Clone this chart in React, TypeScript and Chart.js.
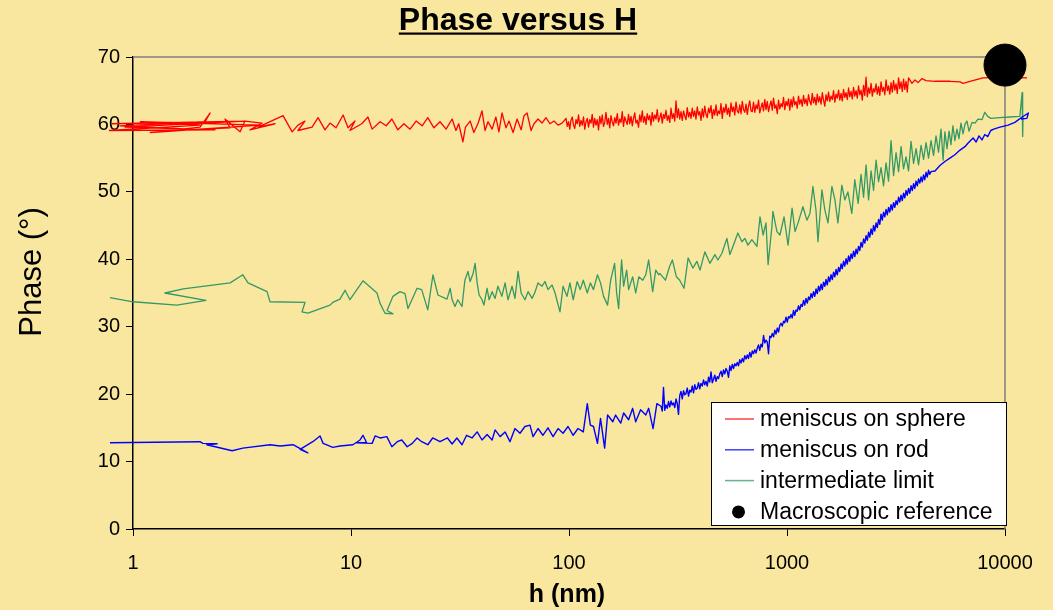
import React, { useEffect, useRef } from "react";
import { Chart, registerables } from "chart.js";
Chart.register(...registerables);

const BG = "#FAE79F";
const FONT = "'Liberation Sans', Arial, sans-serif";
const chartTitle = "Phase versus H";
const xTitle = "h (nm)";
const yTitle = "Phase (°)";
const xTicks = [1, 10, 100, 1000, 10000];
const yTicks = [0, 10, 20, 30, 40, 50, 60, 70];
const seriesLabels = ["meniscus on sphere", "meniscus on rod", "intermediate limit", "Macroscopic reference"];
const seriesColors = ["#FF0000", "#0000FF", "#339966", "#000000"];

// h values (nm) at which the dense parts of the traces were read
const hGrid: number[] = [
  96.9, 98.2, 99.5, 100.8, 102.1, 103.5, 104.9, 106.3, 107.7, 109.1,
  110.6, 112.0, 113.5, 115.0, 116.6, 118.1, 119.7, 121.3, 122.9, 124.5,
  126.2, 127.8, 129.5, 131.2, 133.0, 134.8, 136.6, 138.4, 140.2, 142.1,
  144.0, 145.9, 147.8, 149.8, 151.8, 153.8, 155.8, 157.9, 160.0, 162.1,
  164.3, 166.5, 168.7, 170.9, 173.2, 175.5, 177.8, 180.2, 182.6, 185.0,
  187.5, 190.0, 192.5, 195.1, 197.6, 200.3, 202.9, 205.6, 208.4, 211.1,
  213.9, 216.8, 219.7, 222.6, 225.5, 228.5, 231.6, 234.7, 237.8, 240.9,
  244.1, 247.4, 250.7, 254.0, 257.4, 260.8, 264.3, 267.8, 271.3, 274.9,
  278.6, 282.3, 286.1, 289.9, 293.7, 297.6, 301.6, 305.6, 309.7, 313.8,
  317.9, 322.1, 326.4, 330.8, 335.2, 339.6, 344.1, 348.7, 353.4, 358.1,
  362.8, 367.6, 372.5, 377.5, 382.5, 387.6, 392.7, 397.9, 403.2, 408.6,
  414.0, 419.5, 425.1, 430.8, 436.5, 442.3, 448.2, 454.2, 460.2, 466.3,
  472.5, 478.8, 485.1, 491.6, 498.1, 504.7, 511.4, 518.2, 525.1, 532.1,
  539.2, 546.4, 553.6, 561.0, 568.4, 576.0, 583.6, 591.4, 599.2, 607.2,
  615.3, 623.5, 631.8, 640.2, 648.7, 657.3, 666.0, 674.9, 683.9, 693.0,
  702.2, 711.5, 720.9, 730.5, 740.2, 750.0, 760.0, 770.1, 780.4, 790.8,
  801.3, 811.9, 822.7, 833.6, 844.8, 856.0, 867.4, 878.9, 890.6, 902.4,
  914.4, 926.6, 938.9, 951.4, 964.0, 976.8, 989.8, 1003, 1016, 1030,
  1043, 1057, 1071, 1085, 1100, 1114, 1129, 1144, 1160, 1175,
  1191, 1206, 1222, 1239, 1255, 1272, 1289, 1306, 1323, 1341,
  1359, 1377, 1395, 1414, 1433, 1452, 1471, 1491, 1510, 1530,
  1551, 1571, 1592, 1614, 1635, 1657, 1679, 1701, 1724, 1747,
  1770, 1793, 1817, 1841, 1866, 1891, 1916, 1941, 1967, 1993,
  2020, 2047, 2074, 2101, 2129, 2158, 2186, 2215, 2245, 2275,
  2305, 2336, 2367, 2398, 2430, 2462, 2495, 2528, 2562, 2596,
  2630, 2665, 2700, 2736, 2773, 2810, 2847, 2885, 2923, 2962,
  3001, 3041, 3082, 3123, 3164, 3206, 3249, 3292, 3336, 3380,
  3425, 3470, 3516, 3563, 3610, 3658, 3707, 3756, 3806, 3857,
  3908, 3960, 4012, 4066, 4120, 4174, 4230, 4286, 4343, 4400,
  4459, 4518, 4578,
];

// meniscus on sphere: [h, phase] for the sparse parts
const sphereLow: [number, number][] = [
  [0.80,60.1],[3.26,60.5],[0.92,59.6],[2.38,59.2],[0.78,59.1],[2.03,59.9],[1.08,60.4],[3.83,59.9],[1.20,58.8],[1.83,59.3],
  [0.87,59.8],[2.14,60.4],[2.26,61.7],[2.03,59.6],[1.48,59.1],[2.79,59.5],[2.64,60.8],[3.10,58.9],[3.26,60.5],[3.91,60.2],
  [3.44,59.2],[4.48,60.1],[3.75,59.6],[4.88,61.3],[5.37,58.9],[5.71,59.9],[6.15,60.5],[5.71,59.1],[6.63,59.6],[7.06,61.0],
  [7.60,59.2],[8.01,60.2],[8.54,59.5],[9.2,61.4],[9.69,59.5],[10.43,60.5],[9.89,59.1],[11.2,60.1],[11.96,61.1],[12.5,59.3],
  [13.6,60.4],[14.5,59.8],[15.4,60.8],[16.4,59.2],[17.5,60.1],[18.65,59.3],[19.9,60.5],[21.2,59.8],[22.5,61.0],[24.0,59.5],
  [25.6,60.4],[27.3,59.3],
  [29.1,60.8],[30.3,59.1],[31.2,60.1],[32.6,57.4],[33.5,59.6],[35.2,60.5],[36.6,58.8],[38.2,60.1],[39.9,62.0],[41.2,59.1],
  [42.5,60.4],[44.4,59.3],[46.2,61.1],[47.7,58.9],[49.3,61.7],[51.4,59.5],[53.1,60.5],[55.4,58.8],[57.8,60.8],[60.3,59.2],
  [62.2,61.3],[64.2,61.7],[67.0,59.1],[69.1,60.1],[72.1,60.8],[75.2,60.2],[78.4,61.0],[81.8,60.1],[85.4,60.5],[89.1,59.9],
  [92.9,60.2],
];
// phase at hGrid[0..274]
const sphereDense: number[] = [
  60.9, 59.7, 60.4, 59.3, 60.6, 61.1, 59.9, 59.4, 60.7, 60.1,
  61.4, 59.7, 60.6, 59.9, 61.1, 59.3, 60.4, 60.9, 59.6, 60.7,
  60.2, 61.5, 59.6, 60.9, 59.9, 60.7, 59.2, 61.2, 60.1, 61.4,
  59.7, 60.3, 61.8, 60.0, 60.9, 59.5, 61.3, 60.4, 59.8, 61.0,
  60.2, 61.6, 59.9, 60.8, 60.3, 61.9, 59.7, 61.1, 60.5, 60.0,
  61.5, 60.1, 61.2, 59.8, 60.9, 61.7, 60.2, 60.6, 59.6, 61.4,
  60.4, 62.0, 60.3, 61.2, 60.0, 61.6, 60.7, 61.3, 59.9, 61.8,
  60.5, 61.4, 60.8, 62.2, 60.4, 61.0, 61.7, 60.2, 61.5, 60.9,
  62.1, 60.6, 61.3, 60.3, 62.4, 60.9, 61.6, 60.5, 63.5, 61.0,
  62.3, 60.8, 61.9, 60.6, 62.0, 61.3, 60.7, 62.5, 61.1, 61.8,
  60.9, 62.4, 61.2, 62.0, 60.8, 62.6, 61.4, 61.9, 60.6, 62.3,
  61.1, 62.7, 61.5, 61.0, 62.4, 61.7, 62.8, 60.9, 62.2, 61.4,
  62.9, 61.3, 62.0, 61.6, 63.1, 60.9, 62.5, 61.8, 63.0, 61.5,
  62.4, 61.2, 63.2, 61.9, 62.6, 61.4, 63.3, 62.0, 61.7, 62.9,
  61.6, 63.4, 62.2, 61.8, 63.0, 61.5, 62.7, 63.5, 62.0, 61.9,
  63.3, 61.8, 62.9, 62.3, 63.6, 61.7, 62.5, 63.2, 62.0, 63.7,
  62.2, 63.4, 61.9, 62.8, 63.5, 62.1, 63.9, 62.4, 62.9, 61.6,
  63.6, 62.3, 63.1, 62.6, 64.0, 62.2, 63.4, 62.8, 63.8, 62.1,
  63.7, 62.6, 64.1, 62.9, 63.4, 62.4, 64.2, 63.0, 63.7, 62.7,
  64.3, 63.1, 63.8, 62.8, 64.4, 63.4, 62.9, 64.6, 63.2, 64.0,
  62.9, 64.5, 63.3, 64.1, 63.0, 64.7, 63.6, 62.7, 64.4, 63.5,
  64.8, 63.4, 64.2, 63.7, 65.0, 63.3, 64.5, 63.9, 65.1, 63.6,
  64.6, 63.5, 65.2, 64.0, 64.7, 63.7, 65.4, 64.1, 64.9, 63.8,
  65.5, 64.2, 65.0, 63.9, 65.7, 64.4, 65.1, 63.6, 65.8, 64.3,
  67.0, 64.1, 65.4, 64.6, 66.1, 64.2, 65.3, 64.8, 66.0, 64.5,
  65.6, 64.3, 66.3, 64.9, 65.5, 64.4, 66.6, 65.0, 65.7, 64.5,
  66.2, 64.8, 66.5, 65.1, 66.0, 64.6, 66.9, 65.3, 66.3, 64.9,
  66.7, 65.2, 66.4, 64.8, 66.9,
];
const sphereHigh: [number, number][] = [
  [3744,66.1],[3866,66.6],[3990,66.2],[4163,66.8],[4341,66.5],[4775,66.4],[5594,66.4],[6217,66.3],[6418,66.1],[6909,66.4],
  [7929,66.9],[9484,67.0],[12620,66.9],
];

// meniscus on rod
const rodLow: [number, number][] = [
  [0.784,12.8],[2.03,12.95],[2.09,12.7],[2.43,12.65],[2.18,12.5],[2.85,11.6],[3.19,12.0],[4.25,12.5],[4.73,12.3],[5.42,12.5],
  [6.02,11.7],[6.34,11.3],[5.84,11.8],[6.68,12.95],[7.21,13.8],[7.45,12.7],[8.25,12.1],[8.9,12.3],[10.2,12.5],[11.0,13.2],
  [11.35,13.9],[11.8,12.8],[10.6,12.8],[12.5,12.7],[12.9,13.8],[13.6,13.5],[14.6,13.7],[15.4,12.2],[16.3,12.95],[17.1,13.2],
  [18.1,12.2],[19.1,12.7],[20.1,13.5],[21.1,12.95],[22.5,12.5],[23.7,13.5],[25.6,12.95],[27.7,13.5],
  [29.1,12.6],[30.6,13.5],[32.3,12.5],[33.9,13.9],[35.9,13.5],[37.9,14.4],[39.9,13.2],[42.1,14.0],[44.4,13.2],[45.8,14.7],
  [48.3,13.7],[50.9,14.4],[53.6,12.95],[56.5,14.9],[59.6,14.2],[62.8,15.2],[66.2,15.4],[68.4,13.7],[72.1,14.9],[75.9,13.9],
  [80.1,15.0],[84.5,13.7],[89.1,14.9],[93.9,14.2],[99,15.2],[104.5,13.9],[110,14.9],[116.3,14.4],[121.3,18.6],[125.3,15.4],
  [129.5,15.2],[135.1,12.7],[139.5,16.4],[145.7,12.0],[150.3,16.9],[158.8,15.9],[163.6,16.9],[172.7,15.7],[178.1,17.2],[187.7,16.2],
  [195.9,17.9],[202.3,15.9],[213,17.7],[225,16.9],[232,17.9],[243,14.9],[253,18.6],
];
// phase at hGrid[76..292]
const rodDense: number[] = [
  18.2, 17.5, 21.0, 17.6, 18.4, 17.9, 18.9, 18.1, 19.0, 18.4, 18.7, 18.0, 19.3, 18.6, 17.0, 19.8,
  20.4, 19.3, 20.5, 19.9, 20.1, 20.9, 19.7, 20.6, 20.3, 21.2, 20.2, 21.4, 20.7, 20.9, 21.7, 20.8,
  21.6, 21.2, 22.1, 21.4, 21.9, 21.2, 22.5, 21.8, 23.3, 21.7, 22.2, 22.8, 21.9, 22.6, 22.3, 23.0,
  23.4, 22.6, 23.6, 23.0, 23.8, 23.4, 22.5, 24.2, 23.5, 24.4, 23.8, 24.5, 24.2, 24.7, 24.2, 25.1,
  24.6, 25.3, 24.8, 25.7, 25.2, 25.8, 25.3, 26.2, 25.5, 26.4, 26.0, 26.6, 26.1, 26.8, 27.3, 26.5,
  27.4, 27.0, 28.7, 27.6, 28.0, 27.7, 26.0, 28.6, 28.4, 29.0, 28.5, 29.5, 28.9, 29.8, 29.2, 30.2,
  30.5, 30.1, 30.8, 30.6, 31.4, 30.7, 31.5, 31.3, 31.8, 31.3, 32.4, 31.7, 32.5, 32.3, 33.1, 32.5,
  33.3, 33.0, 33.9, 33.2, 34.2, 33.5, 34.4, 34.0, 34.9, 34.3, 35.2, 34.5, 35.6, 34.9, 36.0, 35.3,
  36.3, 35.5, 36.6, 36.0, 37.0, 36.2, 37.4, 36.7, 37.7, 37.0, 38.1, 37.4, 38.5, 37.7, 38.8, 38.2,
  39.3, 38.6, 39.7, 39.0, 40.1, 39.3, 40.5, 39.7, 40.8, 40.1, 41.2, 40.4, 41.5, 40.8, 41.9, 41.3,
  42.5, 41.8, 43.0, 42.4, 43.5, 42.8, 44.0, 43.3, 44.5, 43.7, 45.0, 44.2, 45.4, 44.7, 45.9, 45.2,
  46.7, 45.8, 47.0, 46.3, 47.4, 46.6, 47.7, 47.0, 48.1, 47.3, 48.4, 47.7, 48.7, 48.1, 49.2, 48.5,
  49.5, 48.7, 49.8, 49.1, 50.2, 49.5, 50.5, 49.8, 50.9, 50.2, 51.2, 50.5, 51.6, 50.9, 51.9, 51.3,
  52.2, 51.5, 52.5, 51.8, 52.9, 52.2, 53.2, 52.6, 53.0,
];
const rodHigh: [number, number][] = [
  [4775,53.1],[5030,53.9],[5300,54.5],[5590,55.0],[5890,55.5],[6220,56.2],[6550,56.7],[6760,57.2],[6990,57.7],[7140,58.0],
  [7370,57.4],[7600,58.3],[7840,57.7],[8080,58.5],[8330,58.2],[8600,59.1],[8880,59.3],[9480,59.6],[10340,59.9],[11100,60.3],
  [12000,61.1],[12800,61.7],[12600,60.9],[11840,60.8],
];

// intermediate limit
const intermediate: [number, number][] = [
  [0.784,34.3],[1.0,33.7],[1.59,33.2],[2.16,33.9],[1.40,35.0],[1.70,35.6],[2.79,36.5],[3.19,37.7],[3.37,36.5],[4.12,35.2],
  [4.25,33.7],[6.15,33.6],[5.96,32.2],[6.35,32.0],[8.01,33.2],[8.25,33.6],[8.9,34.1],[9.39,35.4],[9.89,34.0],[11.35,36.8],
  [13.16,35.0],[13.58,33.5],[14.32,32.0],[15.58,31.9],[14.63,32.4],[15.58,34.5],[16.78,35.2],[17.69,34.9],[18.26,32.7],[20.09,35.7],
  [21.1,35.5],[22.5,32.5],[23.77,37.7],[25.06,34.7],[27.56,34.1],
  [28.5,35.7],[29.1,34.0],[30.0,33.0],[30.9,34.0],[32.3,33.0],[33.3,36.9],[34.4,38.2],[35.2,36.7],[36.3,37.9],[37.1,39.4],
  [37.9,36.5],[38.7,34.7],[39.9,34.0],[40.7,33.2],[42.1,35.7],[43.0,34.0],[44.4,35.2],[45.8,34.2],[47.2,36.0],[49.2,34.5],
  [50.9,36.5],[52.5,34.0],[54.8,36.0],[56.5,34.2],[58.4,38.2],[60.3,35.0],[62.8,34.0],[64.9,35.2],[67.7,34.2],[69.8,35.1],
  [72.1,36.5],[75.2,36.0],[77.6,36.7],[80.1,35.5],[83.6,36.2],[86.3,35.0],[90.9,32.2],[93.9,36.0],[97.9,34.5],[101,36.5],
  [104.5,34.0],[109,36.7],[112.6,35.5],[116.3,36.9],[121.3,35.0],[125.3,36.5],[129.5,35.5],[135.1,37.7],[139.5,36.5],[144.1,34.5],
  [150.3,33.2],[155.3,36.9],[161.9,39.4],[165.4,35.0],[168.9,32.7],[174.3,39.9],[178.1,36.0],[183.8,38.4],[187.7,35.5],[195.9,37.4],
  [202.3,35.0],[209,37.4],[218,36.9],[225,37.7],[232,39.9],[242,35.2],[250,38.4],[258,37.7],
  [261,37.9],[277,36.9],[289,38.9],[298,39.9],[311,37.4],[322,36.9],[337,35.7],[352,40.2],[370,38.7],[386,39.7],
  [399,38.4],[420,41.1],[443,39.4],[467,40.7],[482,39.9],[503,40.9],[530,43.1],[547,40.7],[565,41.9],[595,43.9],
  [621,42.6],[641,43.1],[662,42.1],[690,42.9],[728,41.9],[752,46.3],[777,43.6],[801,45.4],[819,39.2],[853,44.9],
  [862,47.1],[899,44.1],[928,43.6],[969,46.3],[1011,42.1],[1055,47.6],[1089,44.1],[1124,45.4],[1183,47.8],[1234,45.8],
  [1274,46.8],[1315,50.8],[1358,47.3],[1387,42.6],[1446,50.3],[1492,47.3],[1541,45.4],[1607,50.8],[1659,48.8],[1712,45.4],
  [1785,51.0],[1842,48.8],[1902,50.0],[1983,46.8],[2047,51.8],
  [2120,48.3],[2186,52.6],[2245,49.2],[2305,54.0],[2367,48.8],[2430,53.1],[2495,50.2],[2562,54.7],[2630,51.5],[2700,53.6],
  [2773,50.9],[2847,54.3],[2923,51.6],[3001,57.6],[3082,52.4],[3164,55.8],[3249,53.0],[3336,56.7],[3425,53.4],[3516,55.2],
  [3610,53.1],[3707,57.5],[3806,54.2],[3908,56.4],[4012,54.0],[4120,56.9],[4230,54.8],[4343,57.3],[4459,55.0],[4578,57.6],
  [4701,55.4],[4826,58.3],[4955,55.9],[5088,59.3],[5200,54.7],[5300,58.9],[5420,56.4],[5540,59.0],[5650,57.0],[5770,59.8],
  [5890,57.6],[6020,59.3],[6150,57.9],[6280,60.2],[6420,58.6],[6550,60.0],[6690,60.5],[6840,59.0],[7060,60.3],[7280,60.2],
  [7520,60.8],[7840,60.7],[8080,61.8],[8330,61.2],[8600,60.9],[9480,61.0],[10500,61.1],[11700,61.2],[11980,64.7],[12050,58.2],
  [12100,61.1],
];

const macroscopic: [number, number][] = [[10000, 68.8]];

const toXY = (arr: [number, number][]) => arr.map(([x, y]) => ({ x, y }));
const onGrid = (vals: number[], start: number) => vals.map((y, i) => ({ x: hGrid[start + i], y }));

const decor = {
  id: "decor",
  beforeDatasetsDraw(chart: any) {
    const { ctx, chartArea: a } = chart;
    ctx.save();
    ctx.strokeStyle = "#808080";
    ctx.lineWidth = 1.5;
    ctx.beginPath();
    ctx.moveTo(a.left, a.top);
    ctx.lineTo(a.right, a.top);
    ctx.lineTo(a.right, a.bottom);
    ctx.stroke();
    ctx.restore();
  },
  afterDraw(chart: any) {
    const { ctx } = chart;
    ctx.save();
    ctx.fillStyle = "#000";
    ctx.font = `bold 32px ${FONT}`;
    ctx.textAlign = "center";
    ctx.textBaseline = "alphabetic";
    const tx = 518;
    ctx.fillText(chartTitle, tx, 30);
    const tw = ctx.measureText(chartTitle).width;
    ctx.fillRect(tx - tw / 2, 32.5, tw, 2.2);
    ctx.font = `bold 25px ${FONT}`;
    ctx.textBaseline = "middle";
    ctx.fillText(xTitle, 567, 595);
    ctx.save();
    ctx.translate(32, 272);
    ctx.rotate(-Math.PI / 2);
    ctx.font = `31px ${FONT}`;
    ctx.fillText(yTitle, 0, 0);
    ctx.restore();
    const lx = 711, ly = 402, lw = 295, lh = 123;
    ctx.fillStyle = "#FFFFFF";
    ctx.fillRect(lx, ly, lw, lh);
    ctx.strokeStyle = "#000";
    ctx.lineWidth = 1;
    ctx.strokeRect(lx + 0.5, ly + 0.5, lw, lh);
    ctx.font = `23px ${FONT}`;
    ctx.textAlign = "left";
    ctx.textBaseline = "middle";
    seriesLabels.forEach((lab, i) => {
      const cy = 419 + i * 30.8;
      if (i < 3) {
        ctx.strokeStyle = seriesColors[i];
        ctx.globalAlpha = 0.75;
        ctx.lineWidth = 1.5;
        ctx.beginPath();
        ctx.moveTo(725, cy);
        ctx.lineTo(754, cy);
        ctx.stroke();
        ctx.globalAlpha = 1;
      } else {
        ctx.fillStyle = seriesColors[i];
        ctx.beginPath();
        ctx.arc(738.5, cy + 0.5, 6.5, 0, Math.PI * 2);
        ctx.fill();
      }
      ctx.fillStyle = "#000";
      ctx.fillText(lab, 760, cy + 1);
    });
    ctx.restore();
  },
};

export default function App() {
  const ref = useRef<HTMLCanvasElement | null>(null);
  useEffect(() => {
    document.body.style.margin = "0";
    document.body.style.background = BG;
    if (!ref.current) return;
    const lineDs = (i: number, data: { x: number; y: number }[], w: number) => ({
      label: seriesLabels[i],
      data,
      showLine: true,
      borderColor: seriesColors[i],
      backgroundColor: seriesColors[i],
      borderWidth: w,
      pointRadius: 0,
      pointHoverRadius: 0,
      tension: 0,
      clip: false as any,
      order: 1,
      borderJoinStyle: "round" as const,
    });
    const sphereData = [...toXY(sphereLow), ...onGrid(sphereDense, 0), ...toXY(sphereHigh)];
    const rodData = [...toXY(rodLow), ...onGrid(rodDense, 76), ...toXY(rodHigh)];
    const chart = new Chart(ref.current, {
      type: "scatter",
      data: {
        datasets: [
          lineDs(0, sphereData, 1.3),
          lineDs(1, rodData, 1.4),
          lineDs(2, toXY(intermediate), 1.3),
          {
            label: seriesLabels[3],
            data: toXY(macroscopic),
            showLine: false,
            pointRadius: 21,
            pointHoverRadius: 21,
            pointBackgroundColor: "#000",
            pointBorderColor: "#000",
            backgroundColor: "#000",
            borderColor: "#000",
            clip: false as any,
            order: 0,
          },
        ],
      },
      options: {
        animation: false,
        responsive: false,
        devicePixelRatio: 1,
        events: [],
        layout: { padding: { top: 57, right: 48, left: 0, bottom: 0 } },
        plugins: { legend: { display: false }, tooltip: { enabled: false }, title: { display: false } },
        scales: {
          x: {
            type: "logarithmic",
            min: 1,
            max: 10000,
            afterBuildTicks: (s: any) => { s.ticks = xTicks.map((v) => ({ value: v })); },
            afterFit: (s: any) => { s.height = 81; },
            ticks: {
              callback: (v: any) => String(v),
              font: { family: FONT, size: 20 },
              color: "#000",
              padding: 15,
              maxRotation: 0,
              autoSkip: false,
            },
            grid: { drawOnChartArea: false, drawTicks: true, tickLength: 7, color: "#000", lineWidth: 1 },
            border: { display: true, color: "#000", width: 1.5 },
          },
          y: {
            type: "linear",
            min: 0,
            max: 70,
            afterBuildTicks: (s: any) => { s.ticks = yTicks.map((v) => ({ value: v })); },
            afterFit: (s: any) => { s.width = 133; },
            ticks: { font: { family: FONT, size: 20 }, color: "#000", padding: 6 },
            grid: { drawOnChartArea: false, drawTicks: true, tickLength: 7, color: "#000", lineWidth: 1 },
            border: { display: true, color: "#000", width: 1.5 },
          },
        },
      },
      plugins: [decor],
    });
    return () => chart.destroy();
  }, []);
  return (
    <div style={{ width: 1053, height: 610, background: BG }}>
      <canvas ref={ref} width={1053} height={610} style={{ display: "block", width: 1053, height: 610 }} />
    </div>
  );
}
